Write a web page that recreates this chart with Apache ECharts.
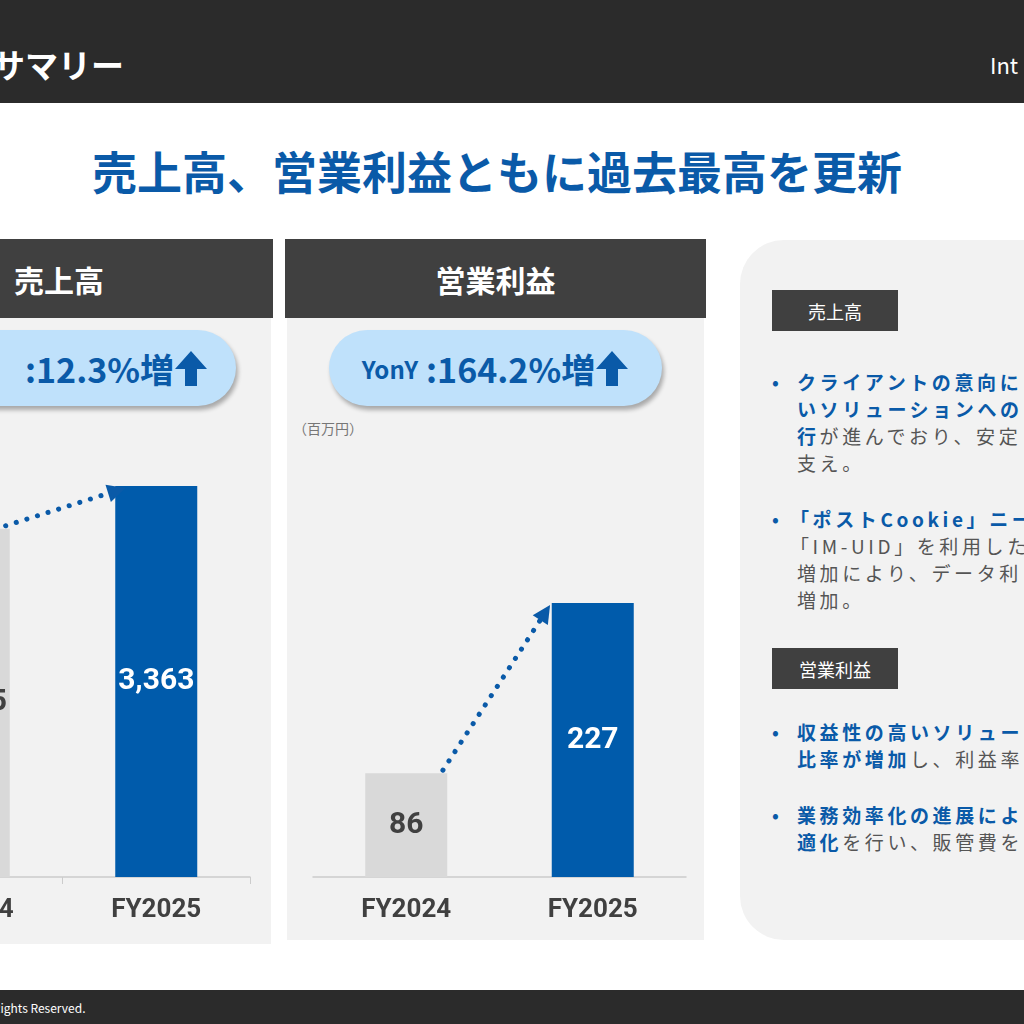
<!DOCTYPE html>
<html><head><meta charset="utf-8">
<script src="https://cdn.jsdelivr.net/npm/echarts@6/dist/echarts.min.js"></script>
<style>
body{margin:0;width:1024px;height:1024px;overflow:hidden;position:relative;background:#fff;font-family:"Noto Sans CJK JP","Noto Sans",sans-serif}
.a{position:absolute}
.hdr{background:#404040;color:#fff;font-size:30px;font-weight:bold;display:flex;align-items:center;justify-content:center}
.pill{background:#bfe1fb;border-radius:38px;box-shadow:2px 4px 4px rgba(0,0,0,.3);color:#0a5aa8;font-weight:bold;display:flex;align-items:center;justify-content:center}
.tag{background:#404040;color:#fff;font-size:18px;display:flex;align-items:center;justify-content:center}
.ln{position:absolute;left:797px;font-size:19px;letter-spacing:3.6px;white-space:nowrap;color:#555;line-height:27px}
.b{color:#0a5aa8;font-weight:bold}
.dot{position:absolute;left:772px;color:#0a5aa8;font-size:18px;font-weight:bold}
</style></head><body>
<div class="a" style="left:0;top:0;width:1024px;height:103px;background:#2b2b2b"></div>
<div class="a" style="left:-8px;top:40px;color:#fff;font-size:33px;font-weight:bold">サマリー</div>
<div class="a" style="left:990px;top:48px;color:#fff;font-size:22px">Int</div>
<div class="a" style="left:0;top:138px;width:994px;text-align:center;color:#0a5aa8;font-size:45px;font-weight:bold">売上高、営業利益ともに過去最高を更新</div>

<div class="a" style="left:0;top:239px;width:271px;height:705px;background:#f2f2f2"></div>
<div class="a hdr" style="left:0;top:239px;width:273px;height:79px;justify-content:flex-start;padding-left:14px;box-sizing:border-box">売上高</div>
<div class="a" style="left:287px;top:239px;width:417px;height:701px;background:#f2f2f2"></div>
<div class="a hdr" style="left:285px;top:239px;width:421px;height:79px">営業利益</div>

<div class="a pill" style="left:-60px;top:330px;width:296px;height:76px;font-size:34px;justify-content:flex-end;padding-right:28px;box-sizing:border-box">:12.3%増<svg width="34" height="38" viewBox="0 0 34 38"><path d="M17 2 L33 20 L23 20 L23 37 L11 37 L11 20 L1 20 Z" fill="#0a5aa8"/></svg></div>
<div class="a pill" style="left:329px;top:330px;width:333px;height:76px;font-size:34px"><span style="font-size:24px;margin-right:8px">YonY</span>:164.2%増<svg width="34" height="38" viewBox="0 0 34 38"><path d="M17 2 L33 20 L23 20 L23 37 L11 37 L11 20 L1 20 Z" fill="#0a5aa8"/></svg></div>
<div class="a" style="left:293px;top:418px;color:#777;font-size:14px">（百万円）</div>

<div class="a" style="left:740px;top:240px;width:330px;height:700px;background:#f2f2f2;border-radius:44px"></div>
<div class="a tag" style="left:772px;top:290px;width:126px;height:41px">売上高</div>
<div class="a tag" style="left:772px;top:648px;width:126px;height:41px">営業利益</div>
<div class="dot" style="top:368px">•</div>
<div class="ln" style="top:368px"><span class="b">クライアントの意向に</span></div>
<div class="ln" style="top:395px"><span class="b">いソリューションへの</span></div>
<div class="ln" style="top:422px"><span class="b">行</span>が進んでおり、安定</div>
<div class="ln" style="top:449px">支え。</div>
<div class="dot" style="top:505px">•</div>
<div class="ln" style="top:505px;left:790px"><span class="b">「ポストCookie」ニー</span></div>
<div class="ln" style="top:532px;left:790px">「IM-UID」を利用した</div>
<div class="ln" style="top:559px">増加により、データ利</div>
<div class="ln" style="top:586px">増加。</div>
<div class="dot" style="top:718px">•</div>
<div class="ln" style="top:718px"><span class="b">収益性の高いソリュー</span></div>
<div class="ln" style="top:745px"><span class="b">比率が増加</span>し、利益率</div>
<div class="dot" style="top:801px">•</div>
<div class="ln" style="top:801px"><span class="b">業務効率化の進展によ</span></div>
<div class="ln" style="top:828px"><span class="b">適化</span>を行い、販管費を</div>

<div class="a" style="left:0;top:990px;width:1024px;height:34px;background:#2b2b2b"></div>
<div class="a" style="left:-24px;top:999px;color:#fff;font-size:12px">All Rights Reserved.</div>

<div id="main" class="a" style="left:-200px;top:0;width:1224px;height:1024px"></div>
<script>
var years = ['FY2024', 'FY2025'];
var sales = [2995, 3363];
var profit = [86, 227];

var chart = echarts.init(document.getElementById('main'));

function bars(idx, vals) {
    return {
        type: 'bar', xAxisIndex: idx, yAxisIndex: idx, barWidth: 82, z: 2,
        data: vals.map(function (v, i) {
            return {
                value: v,
                itemStyle: {color: i === 0 ? '#d9d9d9' : '#005bab'},
                label: {color: i === 0 ? '#404040' : '#fff'}
            };
        }),
        label: {
            show: true, position: 'inside', fontSize: 30, fontWeight: 'bold',
            fontFamily: 'Roboto',
            formatter: function (p) { return p.value.toLocaleString('en-US'); }
        }
    };
}

function arrow(idx, vals, pad) {
    return {
        type: 'custom', xAxisIndex: idx, yAxisIndex: idx, z: 3,
        data: [[0, vals[0], vals[1]]],
        renderItem: function (params, api) {
            var half = api.size([1, 0])[0] * 82 / 188 / 2;
            var p0 = api.coord([0, api.value(1)]);
            var p1 = api.coord([1, api.value(2)]);
            var x0 = p0[0] + half - 4, y0 = p0[1] - 3;
            var x1 = p1[0] - half - pad, y1 = p1[1] + 2;
            var ang = Math.atan2(y1 - y0, x1 - x0);
            var L = 18, W = 9;
            var bx = x1 - L * Math.cos(ang), by = y1 - L * Math.sin(ang);
            var nx = -Math.sin(ang) * W, ny = Math.cos(ang) * W;
            return {
                type: 'group',
                children: [{
                    type: 'line',
                    shape: {x1: x0, y1: y0, x2: bx, y2: by},
                    style: {stroke: '#0a5aa8', lineWidth: 5, lineDash: [0.1, 11], lineCap: 'round'}
                }, {
                    type: 'polygon',
                    shape: {points: [[x1, y1], [bx + nx, by + ny], [bx - nx, by - ny]]},
                    style: {fill: '#0a5aa8'}
                }]
            };
        }
    };
}

var catAxis = function (idx, ticks) {
    return {
        type: 'category', gridIndex: idx, data: years,
        axisLine: {lineStyle: {color: '#cccccc', width: 1.5}},
        axisTick: {show: ticks, length: 7, lineStyle: {color: '#cccccc'}},
        axisLabel: {color: '#404040', fontSize: 26, fontWeight: 'bold', margin: 20, fontFamily: 'Roboto'}
    };
};
var valAxis = function (idx, max) {
    return {type: 'value', gridIndex: idx, min: 0, max: max, show: false, splitLine: {show: false}};
};

chart.setOption({
    animation: false,
    grid: [
        {left: 75, width: 375, top: 486, bottom: 147},
        {left: 513, width: 373, top: 603, bottom: 147}
    ],
    xAxis: [catAxis(0, true), catAxis(1, false)],
    yAxis: [valAxis(0, 3363), valAxis(1, 227)],
    series: [bars(0, sales), bars(1, profit), arrow(0, sales, -10), arrow(1, profit, 2)]
});
</script>
</body></html>
